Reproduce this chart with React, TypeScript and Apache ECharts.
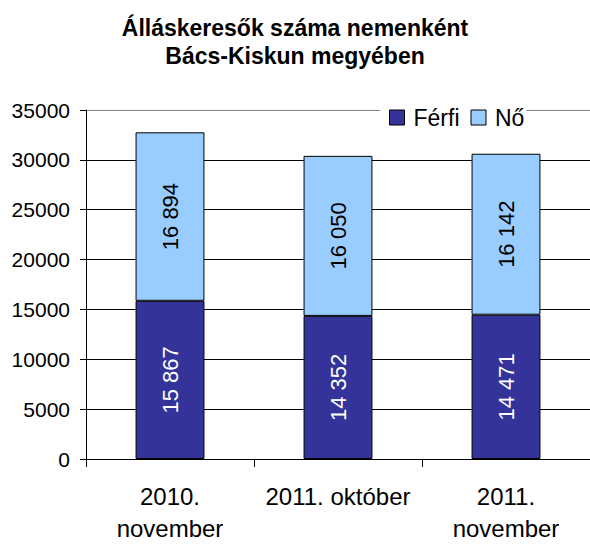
import React, { useEffect, useRef } from "react";
import * as echarts from "echarts";

const titleLines = ["Álláskeresők száma nemenként", "Bács-Kiskun megyében"];
const categories = ["2010.\nnovember", "2011. október", "2011.\nnovember"];
const ferfiValues = [15867, 14352, 14471];
const noValues = [16894, 16050, 16142];
const seriesNames = ["Férfi", "Nő"];
const yTicks = { min: 0, max: 35000, interval: 5000 };

const fmt = (v: number) => {
  const th = Math.floor(v / 1000);
  const rest = String(v % 1000).padStart(3, "0");
  return th > 0 ? `${th} ${rest}` : String(v);
};

const FONT = "'Liberation Sans', Arial, sans-serif";

export default function App() {
  const ref = useRef<HTMLDivElement>(null);
  useEffect(() => {
    if (!ref.current) return;
    const chart = echarts.init(ref.current, null, { renderer: "svg" });
    const splitColors = ["#000", "#000", "#000", "#000", "#000", "#000", "#000", "#808080"];
    chart.setOption({
      animation: false,
      backgroundColor: "#fff",
      title: {
        text: titleLines.join("\n"),
        left: "center",
        top: 14,
        padding: 0,
        textStyle: {
          fontFamily: FONT,
          fontSize: 23,
          fontWeight: "bold",
          color: "#000",
          lineHeight: 28,
        },
      },
      legend: {
        left: 380,
        top: 103,
        padding: [3, 2, 3, 9],
        backgroundColor: "#fff",
        itemWidth: 15,
        itemHeight: 15,
        itemGap: 11,
        icon: "rect",
        data: seriesNames,
        itemStyle: { borderColor: "#000", borderWidth: 1 },
        textStyle: {
          fontFamily: FONT,
          fontSize: 23,
          color: "#000",
          padding: [0, 0, 0, 4],
        },
      },
      grid: { left: 86, top: 110, width: 505, bottom: 80, containLabel: false },
      xAxis: {
        type: "category",
        data: categories,
        axisLine: { lineStyle: { color: "#000", width: 1 } },
        axisTick: { show: true, length: 8, lineStyle: { color: "#000" } },
        axisLabel: {
          fontFamily: FONT,
          fontSize: 24,
          lineHeight: 32,
          color: "#000",
          margin: 21,
          interval: 0,
        },
      },
      yAxis: {
        type: "value",
        min: yTicks.min,
        max: yTicks.max,
        interval: yTicks.interval,
        axisLine: { show: true, lineStyle: { color: "#000", width: 1 } },
        axisTick: { show: true, length: 6, inside: false, lineStyle: { color: "#000" } },
        axisLabel: {
          fontFamily: FONT,
          fontSize: 21,
          color: "#000",
          margin: 16,
          formatter: (v: number) => String(v),
        },
        splitLine: { show: true, lineStyle: { color: splitColors, width: 1 } },
      },
      series: [
        {
          name: seriesNames[0],
          type: "bar",
          stack: "total",
          barWidth: "41%",
          data: ferfiValues,
          itemStyle: { color: "#333399", borderColor: "#000", borderWidth: 1 },
          label: {
            show: true,
            position: "inside",
            rotate: 90,
            fontFamily: FONT,
            fontSize: 22,
            color: "#fff",
            formatter: (p: any) => fmt(p.value),
          },
        },
        {
          name: seriesNames[1],
          type: "bar",
          stack: "total",
          barWidth: "41%",
          data: noValues,
          itemStyle: { color: "#99CCFF", borderColor: "#000", borderWidth: 1 },
          label: {
            show: true,
            position: "inside",
            rotate: 90,
            fontFamily: FONT,
            fontSize: 22,
            color: "#000",
            formatter: (p: any) => fmt(p.value),
          },
        },
      ],
    });
    return () => chart.dispose();
  }, []);
  return (
    <div
      ref={ref}
      style={{ position: "absolute", left: 0, top: 0, width: 590, height: 544 }}
    />
  );
}
